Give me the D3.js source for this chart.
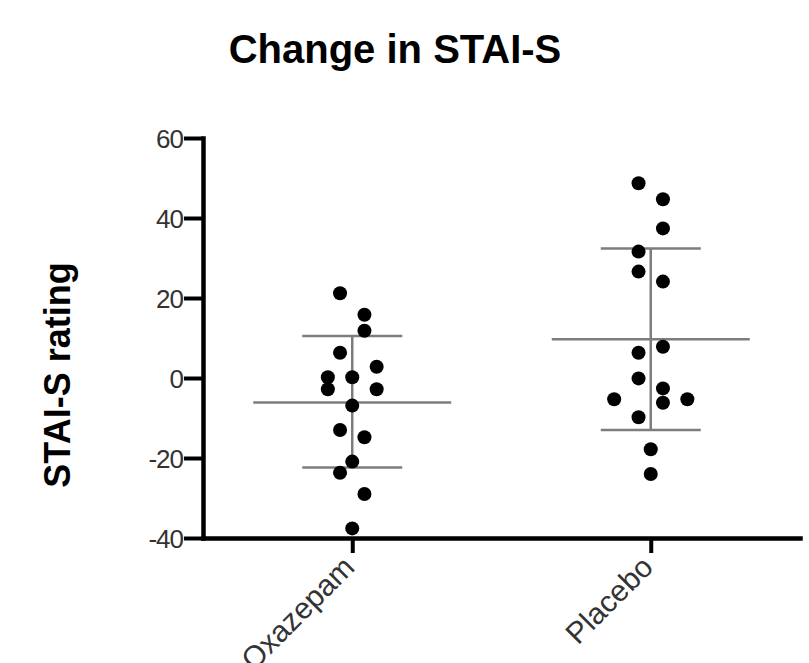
<!DOCTYPE html>
<html>
<head>
<meta charset="utf-8">
<script src="https://cdn.jsdelivr.net/npm/d3@7"></script>
<style>
    body { margin: 0; background: #fff; }
    text { font-family: 'Liberation Sans', Arial, sans-serif; }
</style>
</head>
<body>
<div id="chart"></div>
<script>
// values
var categories = ['Oxazepam', 'Placebo'];
var oxazepamValues = [21.2, 15.8, 11.8, 6.3, 2.8, 0.2, 0.2, -2.8, -2.8, -6.9, -13, -14.8, -20.9, -23.7, -29, -37.6];
var oxazepamLanes = [-1, 1, 1, -1, 2, -2, 0, -2, 2, 0, -1, 1, 0, -1, 1, 0]; // scatter column of each dot
var placeboValues = [48.7, 44.7, 37.4, 31.6, 26.6, 24.1, 7.8, 6.3, -0.1, -2.6, -5.3, -6.2, -5.3, -9.8, -17.8, -24];
var placeboLanes = [-1, 1, 1, -1, -1, 1, 1, -1, -1, 1, -3, 1, 3, -1, 0, 0];
var means = [-6.1, 9.7];
var sdUpper = [10.5, 32.4];
var sdLower = [-22.4, -13];
var yTicks = [-40, -20, 0, 20, 40, 60];

var config = {
    w: 809,
    h: 663,
    left: 203,
    right: 800,
    top: 138,
    bottom: 538,
    dotR: 7,
    laneStep: 12.2,
    meanHalf: 99,
    capHalf: 50
};

var svg = d3.select('#chart').append('svg')
    .attr('width', config.w)
    .attr('height', config.h);

var x = d3.scalePoint()
    .domain(categories)
    .range([config.left, config.right])
    .padding(0.5);

var y = d3.scaleLinear()
    .domain([-40, 60])
    .range([config.bottom, config.top]);

var lane = d3.scaleLinear()
    .domain([0, 1])
    .range([0, config.laneStep]);

var groups = [
    { name: categories[0], values: oxazepamValues, lanes: oxazepamLanes, mean: means[0], hi: sdUpper[0], lo: sdLower[0] },
    { name: categories[1], values: placeboValues, lanes: placeboLanes, mean: means[1], hi: sdUpper[1], lo: sdLower[1] }
];

// title
svg.append('text')
    .attr('x', 395)
    .attr('y', 63)
    .style('text-anchor', 'middle')
    .style('font-weight', 'bold')
    .style('font-size', '40px')
    .style('fill', '#000')
    .text('Change in STAI-S');

// y label
svg.append('text')
    .attr('transform', 'translate(70,' + 375 + ') rotate(-90)')
    .style('text-anchor', 'middle')
    .style('font-weight', 'bold')
    .style('font-size', '36px')
    .style('fill', '#000')
    .text('STAI-S rating');

// mean and SD bars
var bars = svg.selectAll('.bars')
    .data(groups)
    .join('g')
    .attr('class', 'bars')
    .style('stroke', '#7d7d7d')
    .style('stroke-width', '2.5px');

bars.append('line')
    .attr('x1', function (d) { return x(d.name); })
    .attr('x2', function (d) { return x(d.name); })
    .attr('y1', function (d) { return y(d.hi); })
    .attr('y2', function (d) { return y(d.lo); });

bars.append('line')
    .attr('x1', function (d) { return x(d.name) - config.meanHalf; })
    .attr('x2', function (d) { return x(d.name) + config.meanHalf; })
    .attr('y1', function (d) { return y(d.mean); })
    .attr('y2', function (d) { return y(d.mean); });

bars.selectAll('.cap')
    .data(function (d) { return [d.hi, d.lo].map(function (v) { return { name: d.name, v: v }; }); })
    .join('line')
    .attr('class', 'cap')
    .attr('x1', function (d) { return x(d.name) - config.capHalf; })
    .attr('x2', function (d) { return x(d.name) + config.capHalf; })
    .attr('y1', function (d) { return y(d.v); })
    .attr('y2', function (d) { return y(d.v); });

// axes
var yAxis = svg.append('g')
    .attr('transform', 'translate(' + config.left + ',0)')
    .call(d3.axisLeft(y).tickValues(yTicks).tickSize(19).tickSizeOuter(0).tickPadding(1)
        .tickFormat(function (d) { return String(d); }));

var xAxis = svg.append('g')
    .attr('transform', 'translate(0,' + config.bottom + ')')
    .call(d3.axisBottom(x).tickSize(15).tickSizeOuter(0).tickFormat(''));

[yAxis, xAxis].forEach(function (a) {
    a.select('.domain')
        .style('stroke', '#000')
        .style('stroke-width', '4.5px')
        .style('stroke-linecap', 'square');
    a.selectAll('.tick line')
        .style('stroke', '#000')
        .style('stroke-width', '4px');
});

yAxis.selectAll('.tick text')
    .style('font-size', '26px')
    .style('letter-spacing', '-1px')
    .style('fill', '#333')
    .attr('dy', '0.36em');

// x labels, rotated
svg.append('g')
    .selectAll('text')
    .data(categories)
    .join('text')
    .attr('transform', function (d) { return 'translate(' + (x(d) + 4) + ',' + (config.bottom + 31) + ') rotate(-45)'; })
    .style('text-anchor', 'end')
    .style('font-size', '30px')
    .style('fill', '#333')
    .text(function (d) { return d; });

// dots
groups.forEach(function (g) {
    svg.append('g')
        .selectAll('circle')
        .data(g.values)
        .join('circle')
        .attr('cx', function (d, i) { return x(g.name) + lane(g.lanes[i]); })
        .attr('cy', function (d) { return y(d); })
        .attr('r', config.dotR)
        .style('fill', '#000');
});
</script>
</body>
</html>
